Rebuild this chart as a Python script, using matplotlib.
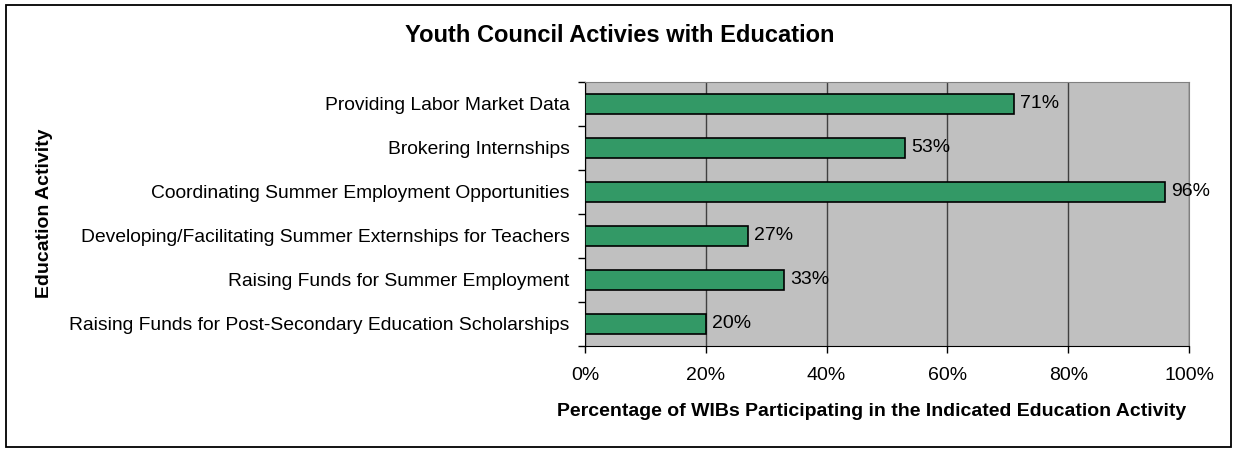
import matplotlib
matplotlib.use("Agg")
import matplotlib.pyplot as plt
from matplotlib.patches import Rectangle
from matplotlib.ticker import MultipleLocator, FuncFormatter

plt.rcParams['font.family'] = ['Liberation Sans', 'DejaVu Sans']

activities = [
    "Providing Labor Market Data",
    "Brokering Internships",
    "Coordinating Summer Employment Opportunities",
    "Developing/Facilitating Summer Externships for Teachers",
    "Raising Funds for Summer Employment",
    "Raising Funds for Post-Secondary Education Scholarships",
]
percentages = [71, 53, 96, 27, 33, 20]

W, H = 1235, 449
fig = plt.figure(figsize=(W / 100, H / 100), dpi=100)
fig.patch.set_facecolor("white")

# outer frame around the chart
fig.add_artist(Rectangle((6 / W, 2 / H), 1225 / W, 442 / H, transform=fig.transFigure,
                         fill=False, edgecolor="black", linewidth=1.3))

left, right, top, bottom = 585, 1189, 82, 346
ax = fig.add_axes([left / W, 1 - bottom / H, (right - left) / W, (bottom - top) / H])
ax.set_facecolor("#C0C0C0")

n = len(activities)
ypos = list(range(n))
ax.barh(ypos, percentages, height=0.44, color="#339966", edgecolor="black",
        linewidth=1.2, zorder=3)
for y, v in zip(ypos, percentages):
    ax.text(v + 1.0, y, f"{v}%", va="center", ha="left", fontsize=14, zorder=4)

ax.set_xlim(0, 100)
ax.set_ylim(n - 0.5, -0.5)
ax.xaxis.set_major_locator(MultipleLocator(20))
ax.xaxis.set_major_formatter(FuncFormatter(lambda v, p: f"{v:.0f}%"))
ax.grid(axis="x", color="#404040", linewidth=1.0, zorder=1)

ax.set_yticks(ypos)
ax.set_yticklabels(activities, fontsize=13.9)
ax.set_yticks([i - 0.5 for i in range(n + 1)], minor=True)
ax.tick_params(axis="y", which="major", length=0, pad=11)
ax.tick_params(axis="y", which="minor", length=5, width=1, color="black")
ax.tick_params(axis="x", length=5, width=1, labelsize=14, pad=10)

for side in ("top", "right"):
    ax.spines[side].set_color("#808080")
for side in ("left", "bottom"):
    ax.spines[side].set_color("black")

fig.text(872 / W, 1 - 412 / H,
         "Percentage of WIBs Participating in the Indicated Education Activity",
         ha="center", va="center", fontsize=14, fontweight="bold")
fig.text(620 / W, 1 - 35 / H, "Youth Council Activies with Education",
         ha="center", va="center", fontsize=17, fontweight="bold")
fig.text(45 / W, 1 - 213 / H, "Education Activity", rotation=90,
         ha="center", va="center", fontsize=14, fontweight="bold")

fig.savefig("out.png", dpi=100, facecolor="white")
